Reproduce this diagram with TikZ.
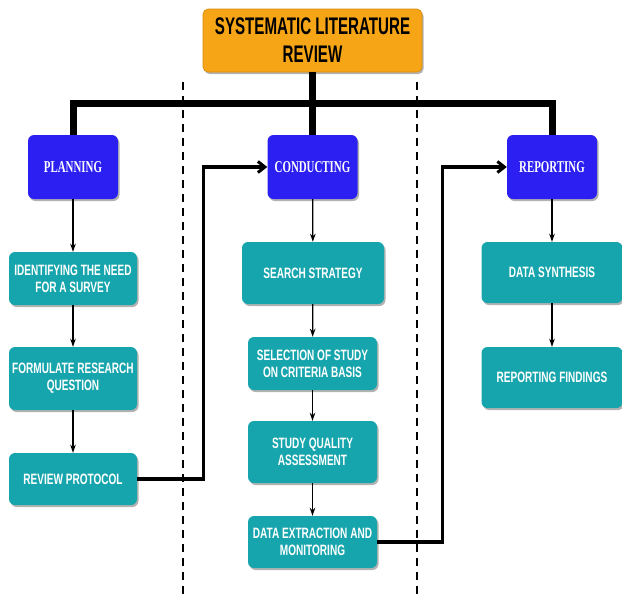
\documentclass[tikz,border=0pt]{standalone}
\usepackage{fontspec}
\usetikzlibrary{arrows.meta,shadows}
\newfontfamily\headfont[FakeStretch=0.63]{Liberation Sans}
\newfontfamily\stepfont[FakeStretch=0.67]{Liberation Sans}
\newfontfamily\phasefont[FakeStretch=0.66]{Liberation Serif}
\definecolor{titleorange}{HTML}{F5A516}
\definecolor{titleedge}{HTML}{D98A0A}
\definecolor{phaseblue}{HTML}{2C1FF2}
\definecolor{stepteal}{HTML}{17A5AD}
\begin{document}
\begin{tikzpicture}[x=1pt,y=-1pt,
  boxshadow/.style={drop shadow={shadow xshift=1.5pt,shadow yshift=-2pt,opacity=0.3,fill=black}},
  titlebox/.style={fill=titleorange,draw=titleedge,line width=0.6pt,rounded corners=5pt,
    align=center,inner sep=0pt,minimum width=219pt,minimum height=63pt,boxshadow,
    font=\headfont\bfseries\fontsize{24}{28}\selectfont,text=black},
  phasebox/.style={fill=phaseblue,rounded corners=6pt,inner sep=0pt,
    minimum width=90pt,minimum height=64pt,boxshadow,
    font=\phasefont\bfseries\fontsize{16.5}{18}\selectfont,text=white},
  stepbox/.style={fill=stepteal,rounded corners=6pt,inner sep=0pt,align=center,boxshadow,
    font=\stepfont\bfseries\fontsize{15}{17}\selectfont,text=white},
  bus/.style={line width=7pt,line join=miter,line cap=butt},
  flow/.style={line width=3.4pt,line join=miter,-{Straight Barb[length=7pt,width=11pt,line width=3pt]}},
  stepflow/.style={line width=1.3pt,-{Stealth[length=8pt,width=5.5pt,inset=2.5pt]}},
  divider/.style={line width=1.8pt,dash pattern=on 8pt off 6pt}
]
\useasboundingbox (0,0) rectangle (622,600);

% phase separators
\coordinate (sepLtop) at (183,82);
\coordinate (sepLbot) at (183,600);
\coordinate (sepRtop) at (417,82);
\coordinate (sepRbot) at (417,600);
\draw[divider] (sepLtop) -- (sepLbot);
\draw[divider] (sepRtop) -- (sepRbot);

% root and phases
\node[titlebox] (slr) at (312.5,40.5) {SYSTEMATIC LITERATURE\\REVIEW};
\node[phasebox] (plan) at (73,167) {PLANNING};
\node[phasebox] (cond) at (312.5,167) {CONDUCTING};
\node[phasebox] (rep)  at (552,167) {REPORTING};

% planning steps
\node[stepbox,minimum width=128pt,minimum height=53pt] (need) at (73,278.5) {IDENTIFYING THE NEED\\FOR A SURVEY};
\node[stepbox,minimum width=128pt,minimum height=63pt] (rq) at (73,378.5) {FORMULATE RESEARCH\\QUESTION};
\node[stepbox,minimum width=128pt,minimum height=52pt] (proto) at (73,479) {REVIEW PROTOCOL};

% conducting steps
\node[stepbox,minimum width=142pt,minimum height=62pt] (search) at (313,273) {SEARCH STRATEGY};
\node[stepbox,minimum width=129pt,minimum height=53pt] (select) at (312.5,363.5) {SELECTION OF STUDY\\ON CRITERIA BASIS};
\node[stepbox,minimum width=129pt,minimum height=62pt] (quality) at (312.5,452) {STUDY QUALITY\\ASSESSMENT};
\node[stepbox,minimum width=129pt,minimum height=52pt] (extract) at (312.5,542) {DATA EXTRACTION AND\\MONITORING};

% reporting steps
\node[stepbox,minimum width=141pt,minimum height=61pt] (synth) at (552,272.5) {DATA SYNTHESIS};
\node[stepbox,minimum width=141pt,minimum height=61pt] (findings) at (552,377.5) {REPORTING FINDINGS};

% tree from the root to the three phases
\coordinate (bar) at (0,103.5);
\draw[bus] (plan.north) -- (plan.north |- bar) -- (rep.north |- bar) -- (rep.north);
\draw[bus] (slr.south) -- (cond.north);

% hand-over between phases
\coordinate (jA) at (203.5,0);
\coordinate (jB) at (442.5,0);
\draw[flow] (proto.east) -| (jA |- cond.west) -- (cond.west);
\draw[flow] (extract.east) -| (jB |- rep.west) -- (rep.west);

% steps within each phase
\draw[stepflow] (plan) -- (need);
\draw[stepflow] (need) -- (rq);
\draw[stepflow] (rq) -- (proto);
\draw[stepflow] (cond) -- (search);
\draw[stepflow] (search) -- (select);
\draw[stepflow] (select) -- (quality);
\draw[stepflow] (quality) -- (extract);
\draw[stepflow] (rep) -- (synth);
\draw[stepflow] (synth) -- (findings);
\end{tikzpicture}
\end{document}
